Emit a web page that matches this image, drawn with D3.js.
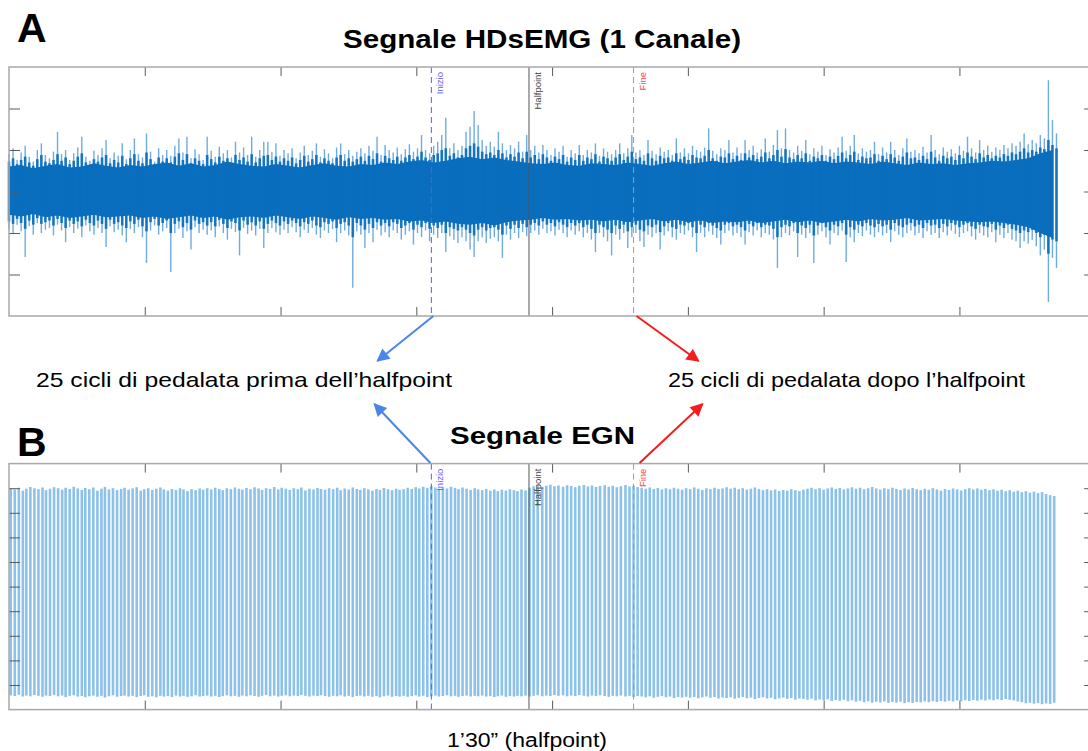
<!DOCTYPE html>
<html>
<head>
<meta charset="utf-8">
<script src="https://cdn.jsdelivr.net/npm/d3@7"></script>
<style>
  html, body { margin: 0; padding: 0; background: #fff; }
  svg { display: block; font-family: "Liberation Sans", Arial, sans-serif; }
</style>
</head>
<body>
<svg id="fig" width="1088" height="751"></svg>
<script>
// ---------------- data ----------------
// Time axis (s) and tick positions
const timeTicks = [23.5, 47, 70.5, 94, 117.5, 141, 164.5];

// HDsEMG (1 channel), mV: column extremes every emgStep seconds
const emgStep = 0.7;
const emgMax = [
  0.45,0.52,0.38,0.47,0.55,0.42,0.36,0.5,0.58,0.44,
  0.4,0.48,0.72,0.45,0.5,0.38,0.46,0.53,0.66,0.42,
  0.37,0.49,0.44,0.52,0.62,0.4,0.47,0.43,0.58,0.39,
  0.5,0.64,0.45,0.41,0.7,0.48,0.36,0.52,0.44,0.5,
  0.43,0.55,0.64,0.47,0.66,0.4,0.51,0.45,0.38,0.66,
  0.49,0.42,0.54,0.46,0.5,0.41,0.6,0.47,0.53,0.44,
  0.66,0.42,0.5,0.6,0.6,0.48,0.58,0.43,0.5,0.46,
  0.52,0.4,0.47,0.55,0.44,0.49,0.58,0.42,0.51,0.46,
  0.4,0.53,0.58,0.45,0.5,0.43,0.48,0.52,0.46,0.55,
  0.49,0.66,0.44,0.56,0.5,0.47,0.53,0.45,0.51,0.57,
  0.48,0.52,0.68,0.5,0.46,0.55,0.6,0.68,0.89,0.52,
  0.58,0.5,0.55,0.72,0.78,0.97,0.8,0.62,0.55,0.6,
  0.54,0.72,0.58,0.5,0.56,0.52,0.6,0.48,0.68,0.5,
  0.55,0.47,0.56,0.5,0.44,0.52,0.48,0.55,0.42,0.5,
  0.46,0.56,0.44,0.5,0.47,0.58,0.43,0.52,0.48,0.45,
  0.5,0.58,0.46,0.52,0.68,0.47,0.5,0.44,0.62,0.49,
  0.45,0.53,0.48,0.5,0.44,0.64,0.47,0.52,0.46,0.55,
  0.5,0.48,0.53,0.76,0.49,0.45,0.52,0.5,0.62,0.47,
  0.53,0.46,0.62,0.5,0.55,0.47,0.51,0.64,0.48,0.56,
  0.74,0.52,0.76,0.5,0.47,0.55,0.49,0.62,0.45,0.52,
  0.48,0.55,0.44,0.51,0.47,0.53,0.66,0.49,0.55,0.68,
  0.46,0.52,0.48,0.5,0.6,0.45,0.53,0.47,0.6,0.5,
  0.44,0.52,0.64,0.48,0.5,0.46,0.54,0.47,0.68,0.5,
  0.45,0.53,0.48,0.51,0.46,0.55,0.49,0.66,0.52,0.47,
  0.62,0.5,0.55,0.48,0.53,0.5,0.56,0.52,0.58,0.55,
  0.6,0.7,0.57,0.62,0.58,0.68,0.64,1.34,0.86,0.7
];
const emgMin = [
  -0.45,-0.5,-0.4,-0.48,-0.79,-0.42,-0.52,-0.38,-0.5,-0.46,
  -0.44,-0.53,-0.4,-0.47,-0.61,-0.43,-0.5,-0.45,-0.55,-0.41,
  -0.48,-0.52,-0.44,-0.5,-0.67,-0.42,-0.49,-0.46,-0.53,-0.61,
  -0.45,-0.5,-0.43,-0.55,-0.86,-0.47,-0.41,-0.52,-0.48,-0.44,
  -0.97,-0.5,-0.45,-0.56,-0.48,-0.7,-0.43,-0.5,-0.46,-0.52,
  -0.47,-0.55,-0.42,-0.5,-0.58,-0.45,-0.49,-0.77,-0.44,-0.51,
  -0.47,-0.53,-0.45,-0.68,-0.5,-0.44,-0.49,-0.52,-0.46,-0.5,
  -0.43,-0.49,-0.55,-0.46,-0.5,-0.44,-0.52,-0.56,-0.47,-0.5,
  -0.45,-0.61,-0.5,-0.47,-0.53,-1.16,-0.48,-0.52,-0.68,-0.5,
  -0.61,-0.46,-0.53,-0.49,-0.55,-0.47,-0.5,-0.58,-0.52,-0.48,
  -0.64,-0.5,-0.55,-0.47,-0.6,-0.52,-0.56,-0.5,-0.73,-0.54,
  -0.58,-0.62,-0.55,-0.6,-0.7,-0.79,-0.6,-0.55,-0.62,-0.57,
  -0.55,-0.6,-0.8,-0.52,-0.58,-0.5,-0.56,-0.49,-0.54,-0.5,
  -0.47,-0.52,-0.45,-0.5,-0.48,-0.53,-0.46,-0.5,-0.55,-0.47,
  -0.52,-0.48,-0.55,-0.5,-0.58,-0.73,-0.5,-0.55,-0.6,-0.77,
  -0.52,-0.58,-0.5,-0.68,-0.55,-0.5,-0.6,-0.67,-0.52,-0.55,
  -0.5,-0.7,-0.53,-0.48,-0.55,-0.58,-0.5,-0.52,-0.47,-0.55,
  -0.73,-0.5,-0.55,-0.48,-0.52,-0.56,-0.64,-0.5,-0.47,-0.53,
  -0.5,-0.55,-0.64,-0.49,-0.53,-0.47,-0.55,-0.5,-0.52,-0.58,
  -0.92,-0.55,-0.5,-0.53,-0.48,-0.79,-0.52,-0.56,-0.5,-0.86,
  -0.52,-0.48,-0.55,-0.64,-0.5,-0.53,-0.47,-0.85,-0.55,-0.61,
  -0.5,-0.54,-0.47,-0.52,-0.55,-0.49,-0.53,-0.5,-0.61,-0.48,
  -0.52,-0.55,-0.5,-0.47,-0.53,-0.5,-0.56,-0.48,-0.52,-0.5,
  -0.56,-0.49,-0.53,-0.47,-0.51,-0.55,-0.5,-0.48,-0.54,-0.58,
  -0.5,-0.53,-0.55,-0.49,-0.61,-0.52,-0.56,-0.5,-0.58,-0.6,
  -0.68,-0.6,-0.63,-0.58,-0.66,-0.77,-0.7,-1.33,-0.8,-0.92
];
// Dense part of each column (mV): most samples fall inside these bounds
const emgInnerHi = [
  0.36,0.4,0.33,0.38,0.42,0.35,0.31,0.39,0.44,0.36,
  0.34,0.38,0.45,0.37,0.41,0.33,0.37,0.42,0.46,0.35,
  0.32,0.39,0.36,0.41,0.44,0.34,0.38,0.35,0.43,0.33,
  0.4,0.45,0.37,0.34,0.47,0.39,0.32,0.41,0.36,0.4,
  0.35,0.42,0.46,0.38,0.45,0.34,0.4,0.37,0.33,0.44,
  0.39,0.35,0.42,0.37,0.4,0.34,0.44,0.38,0.41,0.36,
  0.45,0.35,0.4,0.43,0.44,0.38,0.42,0.36,0.4,0.37,
  0.41,0.34,0.38,0.43,0.36,0.39,0.44,0.35,0.4,0.37,
  0.34,0.41,0.44,0.37,0.4,0.36,0.39,0.42,0.37,0.43,
  0.39,0.46,0.36,0.43,0.4,0.38,0.42,0.37,0.41,0.44,
  0.39,0.42,0.48,0.41,0.38,0.44,0.46,0.5,0.52,0.43,
  0.46,0.41,0.44,0.52,0.55,0.58,0.54,0.48,0.45,0.47,
  0.44,0.5,0.46,0.41,0.45,0.42,0.47,0.4,0.48,0.41,
  0.44,0.39,0.45,0.41,0.37,0.42,0.39,0.44,0.36,0.41,
  0.38,0.44,0.37,0.41,0.39,0.45,0.36,0.42,0.4,0.37,
  0.41,0.45,0.38,0.42,0.48,0.39,0.41,0.37,0.46,0.4,
  0.37,0.43,0.4,0.41,0.37,0.46,0.39,0.42,0.38,0.44,
  0.41,0.4,0.43,0.5,0.4,0.37,0.42,0.41,0.46,0.39,
  0.43,0.38,0.46,0.41,0.44,0.39,0.42,0.47,0.4,0.44,
  0.5,0.42,0.51,0.41,0.39,0.44,0.4,0.46,0.37,0.42,
  0.4,0.44,0.37,0.42,0.39,0.43,0.47,0.4,0.44,0.48,
  0.38,0.42,0.4,0.41,0.45,0.37,0.43,0.39,0.45,0.41,
  0.37,0.42,0.47,0.4,0.41,0.38,0.43,0.39,0.48,0.41,
  0.37,0.43,0.4,0.42,0.38,0.44,0.4,0.47,0.42,0.39,
  0.46,0.41,0.44,0.4,0.43,0.41,0.45,0.43,0.47,0.45,
  0.48,0.52,0.47,0.5,0.48,0.53,0.51,0.62,0.56,0.52
];
const emgInnerLo = [
  -0.36,-0.39,-0.33,-0.38,-0.45,-0.35,-0.4,-0.32,-0.39,-0.37,
  -0.35,-0.41,-0.33,-0.38,-0.44,-0.35,-0.39,-0.36,-0.42,-0.34,
  -0.38,-0.41,-0.35,-0.39,-0.45,-0.34,-0.39,-0.37,-0.41,-0.44,
  -0.36,-0.39,-0.34,-0.42,-0.48,-0.37,-0.33,-0.41,-0.38,-0.35,
  -0.5,-0.39,-0.36,-0.43,-0.38,-0.46,-0.35,-0.39,-0.37,-0.41,
  -0.37,-0.42,-0.34,-0.39,-0.44,-0.36,-0.38,-0.47,-0.35,-0.4,
  -0.37,-0.41,-0.36,-0.45,-0.39,-0.35,-0.38,-0.41,-0.36,-0.39,
  -0.35,-0.38,-0.42,-0.37,-0.39,-0.35,-0.41,-0.43,-0.37,-0.39,
  -0.36,-0.44,-0.39,-0.37,-0.41,-0.55,-0.38,-0.41,-0.46,-0.39,
  -0.44,-0.37,-0.41,-0.38,-0.42,-0.37,-0.39,-0.44,-0.41,-0.38,
  -0.46,-0.4,-0.43,-0.38,-0.45,-0.41,-0.44,-0.4,-0.5,-0.43,
  -0.45,-0.47,-0.43,-0.46,-0.5,-0.53,-0.46,-0.43,-0.47,-0.44,
  -0.43,-0.46,-0.52,-0.41,-0.45,-0.4,-0.44,-0.39,-0.43,-0.4,
  -0.38,-0.41,-0.36,-0.4,-0.38,-0.42,-0.37,-0.4,-0.43,-0.38,
  -0.41,-0.38,-0.43,-0.4,-0.45,-0.5,-0.4,-0.43,-0.46,-0.5,
  -0.41,-0.45,-0.4,-0.48,-0.43,-0.4,-0.46,-0.48,-0.41,-0.43,
  -0.4,-0.49,-0.42,-0.38,-0.43,-0.45,-0.4,-0.41,-0.38,-0.43,
  -0.5,-0.4,-0.43,-0.38,-0.41,-0.44,-0.47,-0.4,-0.38,-0.42,
  -0.4,-0.43,-0.47,-0.39,-0.42,-0.38,-0.43,-0.4,-0.41,-0.45,
  -0.55,-0.43,-0.4,-0.42,-0.38,-0.5,-0.41,-0.44,-0.4,-0.53,
  -0.41,-0.38,-0.43,-0.47,-0.4,-0.42,-0.38,-0.52,-0.43,-0.46,
  -0.4,-0.42,-0.38,-0.41,-0.43,-0.39,-0.42,-0.4,-0.46,-0.38,
  -0.41,-0.43,-0.4,-0.38,-0.42,-0.4,-0.44,-0.38,-0.41,-0.4,
  -0.44,-0.39,-0.42,-0.38,-0.4,-0.43,-0.4,-0.38,-0.42,-0.45,
  -0.4,-0.42,-0.43,-0.39,-0.46,-0.41,-0.44,-0.4,-0.45,-0.47,
  -0.5,-0.47,-0.49,-0.46,-0.5,-0.55,-0.52,-0.75,-0.58,-0.6
];
// Solid core of the EMG trace (mV), every coreStep seconds
const coreStep = 2.1;
const coreHi = [
  0.3,0.32,0.28,0.31,0.33,0.29,0.3,0.34,0.31,0.29,
  0.32,0.3,0.33,0.35,0.31,0.34,0.3,0.32,0.36,0.33,
  0.31,0.3,0.33,0.31,0.29,0.32,0.34,0.31,0.3,0.33,
  0.32,0.35,0.33,0.36,0.38,0.35,0.37,0.4,0.42,0.39,
  0.41,0.38,0.36,0.34,0.33,0.35,0.32,0.31,0.34,0.33,
  0.32,0.35,0.33,0.31,0.34,0.36,0.33,0.35,0.37,0.34,
  0.36,0.38,0.35,0.37,0.34,0.36,0.35,0.37,0.34,0.36,
  0.35,0.33,0.36,0.34,0.32,0.35,0.33,0.34,0.32,0.34,
  0.35,0.37,0.36,0.38,0.4,0.46,0.5
];
const coreLo = [
  -0.28,-0.3,-0.27,-0.31,-0.29,-0.32,-0.3,-0.28,-0.31,-0.3,
  -0.29,-0.32,-0.3,-0.33,-0.31,-0.29,-0.32,-0.3,-0.34,-0.31,
  -0.3,-0.32,-0.29,-0.31,-0.33,-0.3,-0.32,-0.34,-0.31,-0.33,
  -0.32,-0.34,-0.33,-0.36,-0.35,-0.38,-0.36,-0.39,-0.4,-0.38,
  -0.41,-0.37,-0.35,-0.34,-0.32,-0.34,-0.33,-0.35,-0.34,-0.36,
  -0.34,-0.37,-0.35,-0.33,-0.36,-0.34,-0.37,-0.35,-0.38,-0.36,
  -0.37,-0.35,-0.38,-0.36,-0.34,-0.37,-0.35,-0.38,-0.36,-0.34,
  -0.36,-0.33,-0.35,-0.34,-0.32,-0.35,-0.34,-0.33,-0.35,-0.36,
  -0.37,-0.36,-0.38,-0.4,-0.43,-0.5,-0.56
];

// EGN: time of each pedal-cycle peak (s), peak and trough values
const egnCycleTimes = [
  0.3,1.0,1.7,2.4,3.0,3.7,4.4,5.1,5.8,6.4,
  7.1,7.8,8.5,9.2,9.8,10.5,11.2,11.9,12.6,13.2,
  13.9,14.6,15.3,16.0,16.6,17.3,18.0,18.7,19.4,20.0,
  20.7,21.4,22.1,22.8,23.4,24.1,24.8,25.5,26.2,26.8,
  27.5,28.2,28.9,29.6,30.2,30.9,31.6,32.3,33.0,33.6,
  34.3,35.0,35.7,36.4,37.0,37.7,38.4,39.1,39.8,40.4,
  41.1,41.8,42.5,43.2,43.8,44.5,45.2,45.9,46.6,47.2,
  47.9,48.6,49.3,50.0,50.6,51.3,52.0,52.7,53.4,54.0,
  54.7,55.4,56.1,56.8,57.4,58.1,58.8,59.5,60.2,60.8,
  61.5,62.2,62.9,63.6,64.2,64.9,65.6,66.3,67.0,67.6,
  68.3,69.0,69.7,70.4,71.0,71.7,72.4,73.1,73.8,74.4,
  75.1,75.8,76.5,77.2,77.8,78.5,79.2,79.9,80.6,81.2,
  81.9,82.6,83.3,84.0,84.6,85.3,86.0,86.7,87.4,88.0,
  88.7,89.4,
  90.1,90.8,91.5,92.3,93.0,93.7,94.4,95.1,95.9,96.6,
  97.3,98.0,98.7,99.5,100.2,100.9,101.6,102.3,103.1,103.8,
  104.5,105.2,105.9,106.7,107.4,
  108.1,108.8,109.5,110.2,110.9,111.6,112.3,113.0,113.7,114.4,
  115.1,115.8,116.5,117.2,117.9,118.6,119.3,120.0,120.7,121.4,
  122.1,122.8,123.5,124.2,124.9,125.6,126.3,127.0,127.7,128.4,
  129.1,129.8,130.5,131.2,131.9,132.6,133.3,134.0,134.7,135.4,
  136.1,136.8,137.5,138.2,138.9,139.6,140.3,141.0,141.7,142.4,
  143.1,143.8,144.5,145.2,145.9,146.6,147.3,148.0,148.7,149.4,
  150.1,150.8,151.5,152.2,152.9,153.6,154.3,155.0,155.7,156.4,
  157.1,157.8,158.5,159.2,159.9,160.6,161.3,162.0,162.7,163.4,
  164.1,164.8,165.5,166.2,166.9,167.6,168.3,169.0,169.7,170.4,
  171.1,171.8,172.5,173.2,173.9,174.6,175.3,176.0,176.7,177.4,
  178.1,178.8,179.5,180.2,180.9
];
const egnPeaks = [
  8.0,7.95,8.02,7.9,7.98,8.05,8.0,7.96,8.03,7.92,
  7.98,8.04,8.0,7.94,8.02,7.97,8.06,7.99,7.93,8.01,
  7.96,8.03,7.9,7.98,8.05,7.95,8.0,7.92,7.97,8.02,
  7.94,7.99,8.04,7.9,7.96,8.0,7.93,7.98,8.03,7.95,
  7.9,7.97,7.93,8.0,7.95,7.88,7.96,7.92,7.99,7.94,
  8.0,7.95,8.02,7.97,7.92,8.0,7.96,8.03,7.98,7.94,
  8.01,7.96,8.04,7.99,7.93,8.0,7.97,8.05,7.95,8.02,
  7.98,7.93,8.0,7.96,8.03,7.91,7.98,7.95,8.01,7.97,
  7.94,8.0,7.96,8.02,7.92,7.99,7.95,8.03,7.97,7.93,
  8.0,7.95,7.9,7.97,7.93,8.01,7.96,7.92,7.98,7.94,
  7.96,8.02,7.97,8.04,7.99,8.06,8.01,8.08,8.03,7.98,
  8.04,7.99,8.06,8.01,7.96,8.03,7.98,7.93,8.0,7.95,
  7.92,7.97,7.9,7.95,7.88,7.94,7.9,7.96,7.92,7.88,
  7.95,7.91,8.02,8.08,8.12,8.06,8.1,8.14,8.08,8.11,
  8.06,8.12,8.09,8.04,8.1,8.13,8.07,8.11,8.05,8.09,
  8.12,8.06,8.1,8.04,8.08,8.13,8.07,8.1,8.05,8.02,
  7.98,8.03,7.97,8.01,7.95,8.0,7.96,8.02,7.98,7.94,
  8.0,7.96,8.03,7.98,7.93,8.0,7.96,8.02,7.97,7.99,
  8.04,7.98,8.02,7.96,8.0,7.94,7.98,8.03,7.97,7.92,
  7.96,7.91,7.95,7.89,7.93,7.9,7.96,7.92,7.88,7.94,
  7.98,8.02,7.96,8.0,7.94,7.99,8.03,7.97,8.01,7.95,
  7.99,8.04,7.98,8.02,7.96,8.0,8.05,7.99,7.94,8.0,
  7.96,8.02,7.97,7.93,7.99,7.95,8.01,7.96,7.92,7.98,
  7.94,8.0,7.95,7.9,7.97,7.93,7.99,7.95,7.91,7.96,
  8.0,7.95,7.99,7.94,7.97,7.92,7.96,7.9,7.94,7.88,
  7.92,7.86,7.9,7.84,7.88,7.82,7.86,7.8,7.84,7.76,
  7.72,7.68
];
const egnTroughs = [
  -0.42,-0.45,-0.4,-0.47,-0.43,-0.46,-0.41,-0.44,-0.48,-0.43,
  -0.45,-0.41,-0.46,-0.43,-0.49,-0.44,-0.42,-0.47,-0.45,-0.5,
  -0.46,-0.43,-0.48,-0.44,-0.51,-0.46,-0.42,-0.48,-0.45,-0.43,
  -0.47,-0.44,-0.49,-0.45,-0.42,-0.48,-0.46,-0.5,-0.44,-0.47,
  -0.45,-0.49,-0.43,-0.47,-0.44,-0.48,-0.46,-0.42,-0.47,-0.45,
  -0.43,-0.47,-0.44,-0.49,-0.45,-0.42,-0.46,-0.44,-0.48,-0.43,
  -0.46,-0.42,-0.45,-0.48,-0.44,-0.41,-0.46,-0.43,-0.47,-0.44,
  -0.42,-0.46,-0.43,-0.45,-0.41,-0.44,-0.47,-0.43,-0.45,-0.42,
  -0.45,-0.48,-0.44,-0.46,-0.42,-0.47,-0.44,-0.49,-0.45,-0.43,
  -0.47,-0.44,-0.48,-0.45,-0.5,-0.46,-0.43,-0.48,-0.45,-0.47,
  -0.44,-0.48,-0.45,-0.42,-0.47,-0.44,-0.49,-0.46,-0.43,-0.47,
  -0.45,-0.42,-0.46,-0.44,-0.48,-0.45,-0.43,-0.47,-0.44,-0.46,
  -0.43,-0.47,-0.45,-0.49,-0.46,-0.43,-0.48,-0.45,-0.47,-0.44,
  -0.46,-0.43,-0.47,-0.44,-0.42,-0.46,-0.43,-0.45,-0.41,-0.44,
  -0.42,-0.46,-0.43,-0.45,-0.41,-0.44,-0.47,-0.43,-0.45,-0.42,
  -0.45,-0.48,-0.44,-0.46,-0.43,-0.47,-0.44,-0.49,-0.45,-0.47,
  -0.5,-0.46,-0.52,-0.48,-0.45,-0.5,-0.47,-0.53,-0.49,-0.51,
  -0.48,-0.52,-0.49,-0.54,-0.5,-0.47,-0.52,-0.49,-0.55,-0.51,
  -0.53,-0.5,-0.56,-0.52,-0.49,-0.54,-0.51,-0.57,-0.53,-0.5,
  -0.55,-0.52,-0.58,-0.54,-0.51,-0.56,-0.53,-0.6,-0.55,-0.57,
  -0.6,-0.56,-0.63,-0.59,-0.62,-0.58,-0.65,-0.61,-0.64,-0.6,
  -0.66,-0.62,-0.68,-0.64,-0.7,-0.66,-0.72,-0.68,-0.71,-0.67,
  -0.73,-0.69,-0.72,-0.68,-0.74,-0.7,-0.73,-0.69,-0.71,-0.67,
  -0.7,-0.66,-0.69,-0.65,-0.68,-0.64,-0.67,-0.63,-0.66,-0.62,
  -0.65,-0.61,-0.64,-0.6,-0.63,-0.59,-0.62,-0.58,-0.61,-0.57,
  -0.6,-0.63,-0.67,-0.7,-0.74,-0.72,-0.76,-0.73,-0.78,-0.75,
  -0.77,-0.72
];

// Event markers (s)
const markerLabels = ["Inizio", "Halfpoint", "Fine"];
const markerTimes = [73.1, 90, 108.1];

// Axis ticks
const emgTicks = [-1, -0.5, 0, 0.5, 1];
const egnTicks = [0, 1, 2, 3, 4, 5, 6, 7, 8];

// ---------------- drawing ----------------
const svg = d3.select("#fig");
svg.append("rect").attr("width", 1088).attr("height", 751).attr("fill", "#fff");

const markerStyle = {
  Inizio:    { color: "#5c5cf0", dash: "6,4", text: "#5c5cf0" },
  Halfpoint: { color: "#555555", dash: null,  text: "#444444" },
  Fine:      { color: "#ff7070", dash: "6,4", text: "#ff4545" }
};

const x = d3.scaleLinear().domain([0, 188]).range([9, 1095.2]);
const yA = d3.scaleLinear().domain([-1.5, 1.5]).range([316, 67]);
const yB = d3.scaleLinear().domain([-1, 9]).range([709.6, 463.6]);

function drawFrame(g, y, yTicks) {
  const [top, bottom] = [y.range()[1], y.range()[0]];
  const [left, right] = x.range();
  const style = sel => {
    sel.select(".domain").remove();
    sel.selectAll(".tick line").attr("stroke", "#5a5a5a").attr("stroke-width", 1);
  };
  g.append("g").attr("transform", `translate(0,${top})`)
    .call(d3.axisTop(x).tickValues(timeTicks).tickSize(-9).tickSizeOuter(0).tickFormat(""))
    .call(style);
  g.append("g").attr("transform", `translate(0,${bottom})`)
    .call(d3.axisBottom(x).tickValues(timeTicks).tickSize(-9).tickSizeOuter(0).tickFormat(""))
    .call(style);
  g.append("g").attr("transform", `translate(${left},0)`)
    .call(d3.axisLeft(y).tickValues(yTicks).tickSize(-11).tickSizeOuter(0).tickFormat(""))
    .call(style);
  g.append("g").attr("transform", `translate(${right},0)`)
    .call(d3.axisRight(y).tickValues(yTicks).tickSize(-11).tickSizeOuter(0).tickFormat(""))
    .call(style);
  g.append("rect")
    .attr("x", left).attr("y", top)
    .attr("width", right - left).attr("height", bottom - top)
    .attr("fill", "none").attr("stroke", "#a8a8a8").attr("stroke-width", 1.5);
}

function drawMarkers(g, y) {
  const [top, bottom] = [y.range()[1], y.range()[0]];
  markerLabels.forEach((lab, i) => {
    const st = markerStyle[lab];
    const mx = x(markerTimes[i]);
    g.append("line")
      .attr("x1", mx).attr("x2", mx).attr("y1", top).attr("y2", bottom)
      .attr("stroke", st.color).attr("stroke-width", 1)
      .attr("stroke-dasharray", st.dash);
    g.append("text")
      .attr("transform", `translate(${mx + 12},${top + 5}) rotate(-90)`)
      .attr("text-anchor", "end")
      .attr("font-size", 9.5)
      .attr("fill", st.text)
      .text(lab);
  });
}

// ---- Panel A: HDsEMG ----
const gA = svg.append("g");
const emgCols = emgMax.map((v, i) => ({
  t: i * emgStep, hi: v, lo: emgMin[i], inHi: emgInnerHi[i], inLo: emgInnerLo[i]
}));
// full excursion of each column (sparse spikes)
gA.append("g").selectAll("line").data(emgCols).join("line")
  .attr("x1", d => x(d.t)).attr("x2", d => x(d.t))
  .attr("y1", d => yA(d.lo)).attr("y2", d => yA(d.hi))
  .attr("stroke", "#3f8fd6").attr("stroke-width", 1.4).attr("stroke-opacity", 0.75);
// solid core
const coreData = coreHi.map((v, k) => ({ t: k * coreStep, hi: v, lo: coreLo[k] }));
gA.append("path").datum(coreData)
  .attr("fill", "#0a6ebd")
  .attr("d", d3.area().x(d => x(d.t)).y0(d => yA(d.lo)).y1(d => yA(d.hi)));
// dense part of each column (ragged band edge)
gA.append("g").selectAll("line").data(emgCols).join("line")
  .attr("x1", d => x(d.t)).attr("x2", d => x(d.t))
  .attr("y1", d => yA(d.inLo)).attr("y2", d => yA(d.inHi))
  .attr("stroke", "#0a6ebd").attr("stroke-width", 2.6).attr("stroke-opacity", 0.92);
drawMarkers(gA, yA);
drawFrame(gA, yA, emgTicks);

// ---- Panel B: EGN ----
// each pedal cycle swings from trough to peak within one screen column
const gB = svg.append("g");
const egnCycles = egnCycleTimes.map((t, i) => ({ t: t, hi: egnPeaks[i], lo: egnTroughs[i] }));
gB.append("g").selectAll("line").data(egnCycles).join("line")
  .attr("x1", d => x(d.t)).attr("x2", d => x(d.t))
  .attr("y1", d => yB(d.lo)).attr("y2", d => yB(d.hi))
  .attr("stroke", "#8cc2ea").attr("stroke-width", 2.6);
drawMarkers(gB, yB);
drawFrame(gB, yB, egnTicks);

// ---- Titles, labels, arrows ----
const txt = (s, px, py, size, weight, len) => {
  const t = svg.append("text").attr("x", px).attr("y", py)
    .attr("font-size", size).attr("font-weight", weight).attr("fill", "#000").text(s);
  if (len) t.attr("textLength", len).attr("lengthAdjust", "spacingAndGlyphs");
  return t;
};
txt("A", 17, 42, 41, "bold");
txt("B", 17, 456, 41, "bold");
txt("Segnale HDsEMG (1 Canale)", 343, 48, 25, "bold", 398);
txt("Segnale EGN", 450, 444, 24, "bold", 185);
txt("25 cicli di pedalata prima dell\u2019halfpoint", 36, 387, 21, "normal", 416);
txt("25 cicli di pedalata dopo l\u2019halfpoint", 668, 387, 21, "normal", 357);
txt("1\u201930\u201D (halfpoint)", 447, 747, 20, "normal", 160);

const defs = svg.append("defs");
[["blue", "#4a86e8"], ["red", "#f41c1c"]].forEach(([id, c]) => {
  defs.append("marker").attr("id", "arrow-" + id)
    .attr("viewBox", "0 0 10 10").attr("refX", 9).attr("refY", 5)
    .attr("markerUnits", "userSpaceOnUse")
    .attr("markerWidth", 15).attr("markerHeight", 13).attr("orient", "auto")
    .append("path").attr("d", "M0,0 L10,5 L0,10 z").attr("fill", c);
});
const arrows = [
  { id: "blue", c: "#4a86e8", t: markerTimes[0], y0: 316, dx: -56, dy: 45, off: 2 },
  { id: "blue", c: "#4a86e8", t: markerTimes[0], y0: 463, dx: -56, dy: -59, off: -1 },
  { id: "red",  c: "#f41c1c", t: markerTimes[2], y0: 316, dx: 62,  dy: 45, off: 3 },
  { id: "red",  c: "#f41c1c", t: markerTimes[2], y0: 463, dx: 63,  dy: -59, off: 6 }
];
arrows.forEach(a => {
  const sx = x(a.t) + a.off;
  svg.append("line")
    .attr("x1", sx).attr("y1", a.y0)
    .attr("x2", sx + a.dx).attr("y2", a.y0 + a.dy)
    .attr("stroke", a.c).attr("stroke-width", 2)
    .attr("marker-end", `url(#arrow-${a.id})`);
});
</script>
</body>
</html>
